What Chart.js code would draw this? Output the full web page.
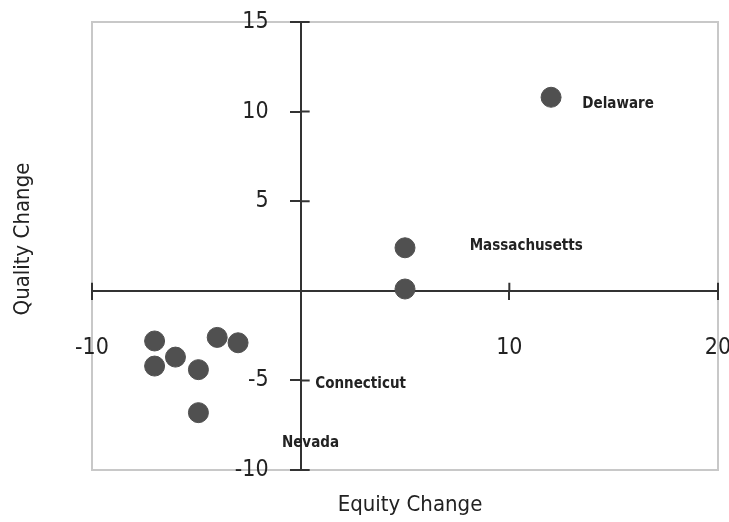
<!DOCTYPE html>
<html>
<head>
<meta charset="utf-8">
<script src="https://cdn.jsdelivr.net/npm/chart.js@4"></script>
<style>
  body { margin: 0; background: #fff; }
</style>
</head>
<body>
<canvas id="chart" width="729" height="522"></canvas>
<script>
const equityChange = [-7, -7, -6, -4.9, -4.9, -4, -3, 5, 5, 12];
const qualityChange = [-2.8, -4.2, -3.7, -4.4, -6.8, -2.6, -2.9, 2.4, 0.1, 10.8];

const xTicks = [-10, 10, 20];
const yTicks = [-10, -5, 5, 10, 15];

// state names as they sit in the original (in data units)
const stateNames = ['Delaware', 'Massachusetts', 'Connecticut', 'Nevada'];
const stateX = [13.5, 8.1, 0.7, -0.9];
const stateY = [10.4, 2.5, -5.2, -8.5];

const FONT = "'Liberation Sans Narrow', 'DejaVu Sans Condensed', sans-serif";

// keep the crossing axes from eating layout space
function noSpace(s) {
    if (s.isHorizontal()) s.height = 0; else s.width = 0;
    s.paddingTop = s.paddingBottom = s.paddingLeft = s.paddingRight = 0;
}

const extras = {
    id: 'extras',
    beforeDraw(chart) {
        const { ctx, chartArea: a } = chart;
        ctx.save();
        ctx.strokeStyle = '#c8c8c8';
        ctx.lineWidth = 2;
        ctx.strokeRect(a.left, a.top, a.right - a.left, a.bottom - a.top);
        ctx.restore();
    },
    beforeDatasetsDraw(chart) {
        const { ctx, scales: { x, y } } = chart;
        const x0 = x.getPixelForValue(0);
        const y0 = y.getPixelForValue(0);
        ctx.save();
        ctx.strokeStyle = '#333';
        ctx.lineWidth = 2;
        ctx.beginPath();
        xTicks.forEach(v => {
            const px = x.getPixelForValue(v);
            ctx.moveTo(px, y0);
            ctx.lineTo(px, y0 - 8);
        });
        yTicks.forEach(v => {
            const py = y.getPixelForValue(v);
            ctx.moveTo(x0, py);
            ctx.lineTo(x0 + 9, py);
        });
        ctx.stroke();

        // y tick labels sit left of the crossing axis
        ctx.fillStyle = '#222';
        ctx.font = '23px ' + FONT;
        ctx.textAlign = 'right';
        ctx.textBaseline = 'middle';
        yTicks.forEach(v => {
            ctx.fillText(String(v), x0 - 32, y.getPixelForValue(v));
        });
        ctx.restore();
    },
    afterDraw(chart) {
        const { ctx, chartArea: a, scales: { x, y } } = chart;
        ctx.save();
        ctx.fillStyle = '#222';
        ctx.font = 'bold 15px ' + FONT;
        ctx.textAlign = 'left';
        ctx.textBaseline = 'middle';
        stateNames.forEach((name, i) => {
            ctx.fillText(name, x.getPixelForValue(stateX[i]), y.getPixelForValue(stateY[i]));
        });

        ctx.font = '22px ' + FONT;
        ctx.textAlign = 'center';
        ctx.fillText('Equity Change', (a.left + a.right) / 2 + 5, 505);
        ctx.translate(23, 239);
        ctx.rotate(-Math.PI / 2);
        ctx.fillText('Quality Change', 0, 0);
        ctx.restore();
    }
};

new Chart(document.getElementById('chart'), {
    type: 'scatter',
    data: {
        datasets: [{
            data: equityChange.map((v, i) => ({ x: v, y: qualityChange[i] })),
            backgroundColor: '#505050',
            borderColor: '#505050',
            pointRadius: 10,
            pointHoverRadius: 10
        }]
    },
    options: {
        responsive: false,
        animation: false,
        devicePixelRatio: 1,
        layout: { padding: { left: 92, right: 8, top: 22, bottom: 52 } },
        plugins: { legend: { display: false }, tooltip: { enabled: false } },
        scales: {
            x: {
                type: 'linear',
                position: { y: 0 },
                min: -10,
                max: 20,
                afterBuildTicks: s => { s.ticks = xTicks.map(v => ({ value: v })); },
                afterFit: noSpace,
                grid: { drawOnChartArea: false, tickLength: 8, color: '#333', lineWidth: 2 },
                border: { color: '#333', width: 2 },
                ticks: { padding: 35, color: '#222', font: { family: FONT, size: 23 }, maxRotation: 0, autoSkip: false }
            },
            y: {
                type: 'linear',
                position: { x: 0 },
                min: -10,
                max: 15,
                afterBuildTicks: s => { s.ticks = yTicks.map(v => ({ value: v })); },
                afterFit: noSpace,
                grid: { drawOnChartArea: false, tickLength: 10, color: '#333', lineWidth: 2 },
                border: { color: '#333', width: 2 },
                ticks: { display: false }
            }
        }
    },
    plugins: [extras]
});
</script>
</body>
</html>
